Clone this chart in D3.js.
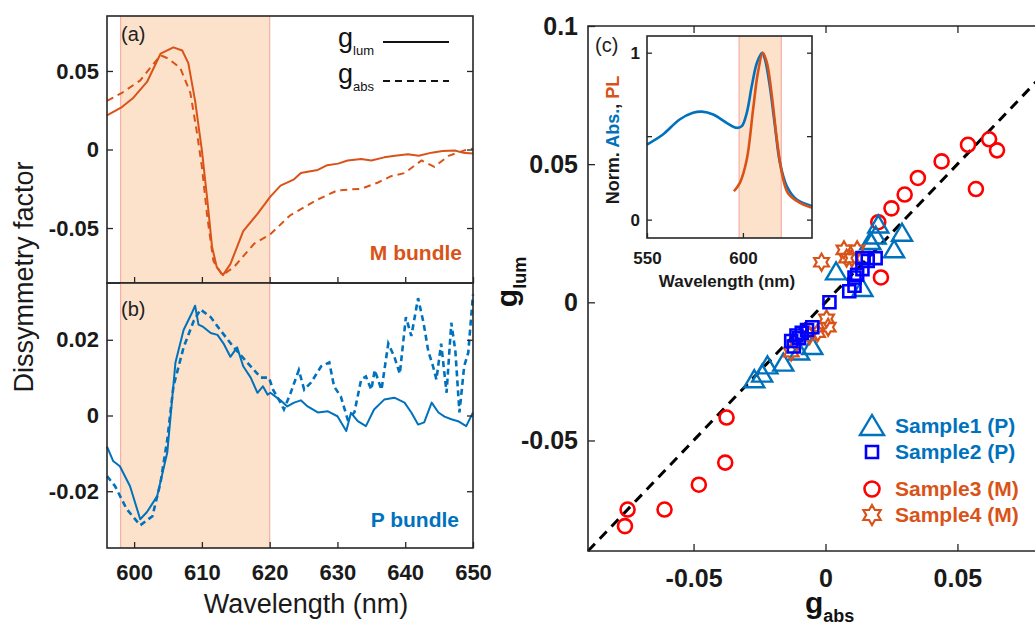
<!DOCTYPE html>
<html>
<head>
<meta charset="utf-8">
<script src="https://cdn.jsdelivr.net/npm/d3@7"></script>
<style>
  html, body { margin: 0; padding: 0; background: #fff; overflow: hidden; }
  svg { display: block; font-family: Arial, "Liberation Sans", sans-serif; }
</style>
</head>
<body>
<svg id="chart" width="1035" height="628"></svg>
<script>
// ---------------- DATA ----------------
// Panel (a): M bundle
const aLumWl = [596, 598.2, 599.9, 601.9, 603.9, 605.8, 607.1, 608, 609, 610, 610.8, 611.5, 612.2, 613.1, 614.2, 616.1, 618.2, 620.1, 621.6, 623.6, 624.6, 625.8, 627.1, 628.5, 630.1, 631.5, 633.5, 635, 636.9, 638.5, 640.4, 642, 643.9, 645.5, 647.3, 648.5, 650];
const aLumG  = [0.0217, 0.027, 0.033, 0.043, 0.061, 0.065, 0.063, 0.055, 0.031, -0.0006, -0.032, -0.062, -0.075, -0.080, -0.073, -0.052, -0.041, -0.030, -0.023, -0.019, -0.015, -0.014, -0.013, -0.010, -0.009, -0.007, -0.006, -0.007, -0.005, -0.004, -0.003, -0.004, -0.002, -0.001, -0.0006, -0.002, -0.0026];
const aAbsWl = [596, 598.2, 600.9, 603.9, 605, 606.8, 608.3, 609.3, 610, 610.8, 611.7, 613, 614.7, 617.7, 620.1, 623, 627, 630, 633.5, 636, 637.9, 639.9, 642.4, 644.3, 646.4, 648.7, 650];
const aAbsG  = [0.031, 0.036, 0.044, 0.060, 0.058, 0.052, 0.036, 0.010, -0.011, -0.043, -0.071, -0.080, -0.075, -0.060, -0.054, -0.042, -0.032, -0.026, -0.025, -0.021, -0.017, -0.015, -0.007, -0.011, -0.004, -0.0006, 0.0006];

// Panel (b): P bundle
const bLumWl = [596, 596.9, 597.9, 599.4, 600.9, 601.9, 603.4, 604.9, 606.1, 607.3, 608.5, 609, 609.5, 610.2, 611.3, 612.3, 613.2, 614.2, 615.2, 616.1, 617.2, 618.2, 619, 619.7, 620.1, 621.6, 622.6, 623.6, 624.6, 625.6, 627.1, 628.6, 630, 631.3, 632, 633, 634.2, 635.4, 636.9, 638.4, 639.9, 640.9, 641.9, 642.8, 643.9, 644.9, 645.8, 646.8, 647.8, 649, 650];
const bLumG  = [-0.0082, -0.012, -0.0134, -0.0187, -0.0274, -0.0255, -0.0213, -0.0097, 0.014, 0.0226, 0.027, 0.029, 0.024, 0.0234, 0.0218, 0.0213, 0.019, 0.0155, 0.018, 0.013, 0.010, 0.006, 0.0077, 0.0055, 0.006, 0.004, 0.0024, 0.0034, 0.004, 0.0024, 0.0008, 0.0011, -0.0002, -0.0041, 0.0007, -0.0015, -0.0028, 0.0016, 0.0042, 0.0047, 0.0034, 0.0008, -0.0024, -0.0018, 0.0034, 0.0008, -0.0003, -0.001, -0.0015, -0.0028, 0.0008];
const bAbsWl = [596, 597.2, 598.9, 600.9, 602.7, 603.9, 604.9, 605.8, 607.3, 608.8, 609.8, 611.3, 612.7, 614.7, 616.7, 618.7, 619.9, 620.5, 621.6, 622.1, 623.1, 624.3, 625.1, 626.1, 627.6, 628.8, 629.5, 630.5, 631.5, 632.5, 633.5, 634.2, 635, 635.5, 636.5, 637.5, 638.4, 639.2, 640.1, 640.9, 641.9, 642.7, 643.4, 644.1, 644.6, 645.3, 646.1, 646.8, 647.4, 648, 648.7, 649.3, 650];
const bAbsG  = [-0.016, -0.0187, -0.0247, -0.029, -0.0266, -0.0177, -0.0063, 0.0077, 0.018, 0.025, 0.028, 0.026, 0.0226, 0.018, 0.014, 0.010, 0.010, 0.0068, 0.0034, 0.0016, 0.006, 0.012, 0.0068, 0.0087, 0.013, 0.014, 0.0077, 0.005, -0.001, 0.0008, 0.0095, 0.0103, 0.0068, 0.012, 0.0068, 0.019, 0.0155, 0.011, 0.026, 0.021, 0.031, 0.0245, 0.017, 0.013, 0.0095, 0.019, 0.006, 0.0245, 0.017, 0.0008, 0.013, 0.0166, 0.032];

const shadeRange = [598, 620];
const xTicksLeft = [600, 610, 620, 630, 640, 650];
const yTicksA = [-0.05, 0, 0.05];
const yLabelsA = ["-0.05", "0", "0.05"];
const yTicksB = [-0.02, 0, 0.02];
const yLabelsB = ["-0.02", "0", "0.02"];

// Panel (c) inset spectra
const absWl = [550, 558.3, 567, 574, 578.6, 584.5, 591.5, 596.7, 599.4, 602, 604.6, 607.3, 610, 611.5, 614, 616.7, 619.3, 622.9, 628, 634.9, 636];
const absVal = [0.45, 0.51, 0.60, 0.64, 0.647, 0.63, 0.58, 0.55, 0.56, 0.64, 0.80, 0.94, 1.0, 0.96, 0.80, 0.56, 0.34, 0.20, 0.12, 0.085, 0.08];
const plWl  = [595.3, 598.4, 602, 605.3, 607.8, 610.4, 612.5, 615.1, 617.7, 620.3, 623.4, 629.7, 634.9, 636];
const plVal = [0.17, 0.22, 0.36, 0.66, 0.88, 1.0, 0.94, 0.74, 0.48, 0.28, 0.16, 0.10, 0.075, 0.072];
const insetXTicks = [550, 600];
const insetYTicks = [0, 0.5, 1];

// Scatter g_lum vs g_abs
const s1Abs = [-0.027, -0.024, -0.022, -0.016, -0.010, -0.005, 0.004, 0.014, 0.017, 0.019, 0.020, 0.026, 0.029];
const s1Lum = [-0.028, -0.026, -0.023, -0.022, -0.018, -0.016, 0.011, 0.005, 0.022, 0.024, 0.028, 0.019, 0.025];
const s2Abs = [-0.013, -0.012, -0.011, -0.010, -0.009, -0.007, -0.005, 0.0015, 0.009, 0.011, 0.011, 0.012, 0.014, 0.014, 0.016, 0.019];
const s2Lum = [-0.014, -0.016, -0.012, -0.013, -0.011, -0.010, -0.009, 0.0, 0.004, 0.006, 0.009, 0.010, 0.012, 0.016, 0.015, 0.016];
const s3Abs = [-0.0375, -0.038, -0.048, -0.061, -0.075, -0.076, 0.021, 0.020, 0.025, 0.030, 0.035, 0.044, 0.054, 0.057, 0.062, 0.065];
const s3Lum = [-0.0417, -0.058, -0.066, -0.075, -0.075, -0.081, 0.009, 0.029, 0.034, 0.039, 0.045, 0.051, 0.057, 0.041, 0.059, 0.055];
const s4Abs = [-0.0015, 0.007, 0.008, 0.012, 0.010, 0.0004, 0.001, -0.003, -0.013, -0.006];
const s4Lum = [0.0145, 0.019, 0.016, 0.019, 0.016, -0.006, -0.009, -0.011, -0.018, -0.012];
const legendNames = ["Sample1 (P)", "Sample2 (P)", "Sample3 (M)", "Sample4 (M)"];
const sYTicks = [-0.05, 0, 0.05, 0.1];
const sYLabels = ["-0.05", "0", "0.05", "0.1"];
const sXTicks = [-0.05, 0, 0.05];
const sXLabels = ["-0.05", "0", "0.05"];

// ---------------- STYLE ----------------
const ORANGE = "#D95319", BLUE = "#0072BD", RED = "#FF0000", PURE_BLUE = "#0000FF";
const SHADE = "#FCE2CA", SHADE_EDGE = "#F6B0A6", AXIS = "#262626";

const svg = d3.select("#chart");

function zip(xs, ys) { return xs.map((x, i) => [x, ys[i]]); }

// ---------------- LEFT PANELS ----------------
const xL = d3.scaleLinear().domain([596, 650]).range([107, 473]);
const yA = d3.scaleLinear().domain([-0.085, 0.085]).range([283, 16]);
const yB = d3.scaleLinear().domain([-0.035, 0.035]).range([548, 283]);

function drawShade(g, y) {
  const [y0, y1] = y.range();
  g.append("rect").attr("x", xL(shadeRange[0])).attr("y", y1)
    .attr("width", xL(shadeRange[1]) - xL(shadeRange[0])).attr("height", y0 - y1)
    .attr("fill", SHADE);
  shadeRange.forEach(v => g.append("line").attr("x1", xL(v)).attr("x2", xL(v))
    .attr("y1", y1).attr("y2", y0).attr("stroke", SHADE_EDGE).attr("stroke-width", 1.2));
}

function styleAxis(g, fs) {
  g.attr("font-family", null).attr("font-size", null);
  g.select(".domain").remove();
  g.selectAll(".tick line").attr("stroke", AXIS).attr("stroke-width", 1.3);
  g.selectAll(".tick text").attr("fill", "#1a1a1a").attr("font-weight", "bold").attr("font-size", fs);
}

function drawPanel(y, yTicks, yLabels, lum, abs, color, dashArr, dashW, showX) {
  const g = svg.append("g");
  drawShade(g, y);
  const line = d3.line().x(d => xL(d[0])).y(d => y(d[1]));
  g.append("path").datum(lum).attr("d", line).attr("fill", "none")
    .attr("stroke", color).attr("stroke-width", 2).attr("stroke-linejoin", "round");
  g.append("path").datum(abs).attr("d", line).attr("fill", "none")
    .attr("stroke", color).attr("stroke-width", dashW).attr("stroke-dasharray", dashArr);
  const [yb, yt] = y.range();
  const ay = g.append("g").attr("transform", `translate(${xL.range()[0]},0)`)
    .call(d3.axisLeft(y).tickValues(yTicks).tickSize(-6).tickPadding(8)
      .tickFormat((d, i) => yLabels[i]));
  styleAxis(ay, 22);
  const ayr = g.append("g").attr("transform", `translate(${xL.range()[1]},0)`)
    .call(d3.axisRight(y).tickValues(yTicks).tickSize(-6).tickFormat(""));
  styleAxis(ayr, 22);
  const ax = g.append("g").attr("transform", `translate(0,${yb})`)
    .call(d3.axisBottom(xL).tickValues(xTicksLeft).tickSize(-6).tickPadding(16)
      .tickFormat(showX ? d3.format("d") : ""));
  styleAxis(ax, 22);
  g.append("rect").attr("x", xL.range()[0]).attr("y", yt)
    .attr("width", xL.range()[1] - xL.range()[0]).attr("height", yb - yt)
    .attr("fill", "none").attr("stroke", AXIS).attr("stroke-width", 1.6);
  return g;
}

drawPanel(yA, yTicksA, yLabelsA, zip(aLumWl, aLumG), zip(aAbsWl, aAbsG), ORANGE, "7,5", 2, false);
drawPanel(yB, yTicksB, yLabelsB, zip(bLumWl, bLumG), zip(bAbsWl, bAbsG), BLUE, "6,4", 2.6, true);

// panel labels
svg.append("text").attr("x", 121).attr("y", 41).attr("font-size", 20).attr("fill", "#222").text("(a)");
svg.append("text").attr("x", 121).attr("y", 316).attr("font-size", 20).attr("fill", "#222").text("(b)");
svg.append("text").attr("x", 462).attr("y", 260).attr("text-anchor", "end")
  .attr("font-size", 21).attr("font-weight", "bold").attr("fill", ORANGE).text("M bundle");
svg.append("text").attr("x", 459).attr("y", 527).attr("text-anchor", "end")
  .attr("font-size", 21).attr("font-weight", "bold").attr("fill", BLUE).text("P bundle");

// legend (a)
function gText(parent, x, y, sub, fs, subFs, weight, anchor) {
  const t = parent.append("text").attr("x", x).attr("y", y).attr("font-size", fs)
    .attr("font-weight", weight).attr("fill", "#111").attr("text-anchor", anchor || "start");
  t.append("tspan").text("g");
  t.append("tspan").attr("dy", fs * 0.3).attr("font-size", subFs).text(sub);
  return t;
}
gText(svg, 338, 47, "lum", 27, 13, "normal");
gText(svg, 338, 83, "abs", 27, 13, "normal");
svg.append("line").attr("x1", 383).attr("x2", 449).attr("y1", 42).attr("y2", 42)
  .attr("stroke", "#111").attr("stroke-width", 2);
svg.append("line").attr("x1", 383).attr("x2", 449).attr("y1", 81).attr("y2", 81)
  .attr("stroke", "#111").attr("stroke-width", 2).attr("stroke-dasharray", "7,5");

// axis titles left
svg.append("text").attr("x", 306).attr("y", 613).attr("text-anchor", "middle")
  .attr("font-size", 27).attr("fill", "#1a1a1a").text("Wavelength (nm)");
svg.append("text").attr("transform", "translate(33,277) rotate(-90)").attr("text-anchor", "middle")
  .attr("font-size", 27).attr("fill", "#1a1a1a").text("Dissymmetry factor");

// ---------------- SCATTER ----------------
const xS = d3.scaleLinear().domain([-0.09, 0.09]).range([588, 1063]);
const yS = d3.scaleLinear().domain([-0.09, 0.1]).range([551, 26]);
const gs = svg.append("g");

// diagonal
gs.append("line").attr("x1", xS(-0.09)).attr("y1", yS(-0.09)).attr("x2", xS(0.1)).attr("y2", yS(0.1))
  .attr("stroke", "#000").attr("stroke-width", 3).attr("stroke-dasharray", "10,7");

const triPath = "M0,-9.5L10,7.5L-10,7.5Z";
const sqPath = "M-6,-6H6V6H-6Z";
function hexPath(R) {
  const r = R / Math.sqrt(3);
  const pts = d3.range(12).map(i => {
    const a = -Math.PI / 2 + i * Math.PI / 6;
    const rr = i % 2 === 0 ? R : r;
    return [rr * Math.cos(a), rr * Math.sin(a)];
  });
  return "M" + pts.map(p => p.join(",")).join("L") + "Z";
}
const starPath = hexPath(8.5);

function markers(xs, ys, path, color, w) {
  gs.selectAll(null).data(zip(xs, ys)).enter().append("path")
    .attr("d", path).attr("transform", d => `translate(${xS(d[0])},${yS(d[1])})`)
    .attr("fill", "none").attr("stroke", color).attr("stroke-width", w);
}
gs.selectAll(null).data(zip(s3Abs, s3Lum)).enter().append("circle")
  .attr("cx", d => xS(d[0])).attr("cy", d => yS(d[1])).attr("r", 7)
  .attr("fill", "none").attr("stroke", RED).attr("stroke-width", 2.6);
markers(s1Abs, s1Lum, triPath, BLUE, 2.4);
markers(s4Abs, s4Lum, starPath, ORANGE, 2.2);
markers(s2Abs, s2Lum, sqPath, PURE_BLUE, 2.6);

// axes
const sAxL = gs.append("g").attr("transform", `translate(${xS.range()[0]},0)`)
  .call(d3.axisLeft(yS).tickValues(sYTicks).tickSize(-7).tickPadding(10).tickFormat((d, i) => sYLabels[i]));
styleAxis(sAxL, 25);
const sAxB = gs.append("g").attr("transform", `translate(0,${yS.range()[0]})`)
  .call(d3.axisBottom(xS).tickValues(sXTicks).tickSize(-7).tickPadding(18).tickFormat((d, i) => sXLabels[i]));
styleAxis(sAxB, 25);
const sAxT = gs.append("g").attr("transform", `translate(0,${yS.range()[1]})`)
  .call(d3.axisTop(xS).tickValues(sXTicks).tickSize(-7).tickFormat(""));
styleAxis(sAxT, 25);
gs.append("path").attr("d", `M${xS.range()[1]},${yS.range()[1]}H${xS.range()[0]}V${yS.range()[0]}H${xS.range()[1]}`)
  .attr("fill", "none").attr("stroke", AXIS).attr("stroke-width", 1.6);

// axis titles
gText(svg, 805, 613, "abs", 30, 18, "bold");
gText(svg, 0, 0, "lum", 30, 18, "bold", "middle").attr("transform", "translate(517,282) rotate(-90)");

// legend scatter
const legY = [426, 452, 489, 515];
const legCol = [BLUE, BLUE, ORANGE, ORANGE];
const lg = svg.append("g");
lg.append("path").attr("d", "M0,-11L12,9L-12,9Z").attr("transform", `translate(872,${legY[0]})`)
  .attr("fill", "none").attr("stroke", BLUE).attr("stroke-width", 2.4);
lg.append("path").attr("d", sqPath).attr("transform", `translate(872,${legY[1]})`)
  .attr("fill", "none").attr("stroke", PURE_BLUE).attr("stroke-width", 2.6);
lg.append("circle").attr("cx", 872).attr("cy", legY[2]).attr("r", 7.5)
  .attr("fill", "none").attr("stroke", RED).attr("stroke-width", 2.6);
lg.append("path").attr("d", hexPath(10)).attr("transform", `translate(872,${legY[3]})`)
  .attr("fill", "none").attr("stroke", ORANGE).attr("stroke-width", 2.2);
legendNames.forEach((n, i) => lg.append("text").attr("x", 895).attr("y", legY[i] + 7)
  .attr("font-size", 21).attr("font-weight", "bold").attr("fill", legCol[i]).text(n));

// ---------------- INSET ----------------
const xI = d3.scaleLinear().domain([550, 636]).range([647, 812]);
const yI = d3.scaleLinear().domain([-0.11, 1.1]).range([238, 36]);
const gi = svg.append("g");
gi.append("rect").attr("x", 647).attr("y", 36).attr("width", 165).attr("height", 202).attr("fill", "#fff");
gi.append("rect").attr("x", xI(shadeRange[0])).attr("y", 36)
  .attr("width", xI(shadeRange[1]) - xI(shadeRange[0])).attr("height", 202).attr("fill", SHADE);
shadeRange.forEach(v => gi.append("line").attr("x1", xI(v)).attr("x2", xI(v)).attr("y1", 36).attr("y2", 238)
  .attr("stroke", SHADE_EDGE).attr("stroke-width", 1.2));
const lineI = d3.line().x(d => xI(d[0])).y(d => yI(d[1])).curve(d3.curveCatmullRom.alpha(0.5));
gi.append("path").datum(zip(absWl, absVal)).attr("d", lineI).attr("fill", "none")
  .attr("stroke", BLUE).attr("stroke-width", 2.6);
gi.append("path").datum(zip(plWl, plVal)).attr("d", lineI).attr("fill", "none")
  .attr("stroke", ORANGE).attr("stroke-width", 2.6);
const iL = gi.append("g").attr("transform", "translate(647,0)")
  .call(d3.axisLeft(yI).tickValues(insetYTicks).tickSize(-5).tickPadding(7)
    .tickFormat(d => (d === 0 || d === 1) ? d3.format("d")(d) : ""));
styleAxis(iL, 17);
const iR = gi.append("g").attr("transform", "translate(812,0)")
  .call(d3.axisRight(yI).tickValues(insetYTicks).tickSize(-5).tickFormat(""));
styleAxis(iR, 17);
const iB = gi.append("g").attr("transform", "translate(0,238)")
  .call(d3.axisBottom(xI).tickValues(insetXTicks).tickSize(-5).tickPadding(14).tickFormat(d3.format("d")));
styleAxis(iB, 17);
gi.append("rect").attr("x", 647).attr("y", 36).attr("width", 165).attr("height", 202)
  .attr("fill", "none").attr("stroke", AXIS).attr("stroke-width", 1.6);
gi.append("text").attr("x", 727).attr("y", 287).attr("text-anchor", "middle")
  .attr("font-size", 17).attr("font-weight", "bold").attr("fill", "#1a1a1a").text("Wavelength (nm)");
const yl = gi.append("text").attr("transform", "translate(619,140) rotate(-90)").attr("text-anchor", "middle")
  .attr("font-size", 18).attr("font-weight", "bold");
yl.append("tspan").attr("fill", "#1a1a1a").text("Norm. ");
yl.append("tspan").attr("fill", BLUE).text("Abs.");
yl.append("tspan").attr("fill", "#1a1a1a").text(", ");
yl.append("tspan").attr("fill", ORANGE).text("PL");
gi.append("text").attr("x", 595).attr("y", 52).attr("font-size", 20).attr("fill", "#222").text("(c)");
</script>
</body>
</html>
